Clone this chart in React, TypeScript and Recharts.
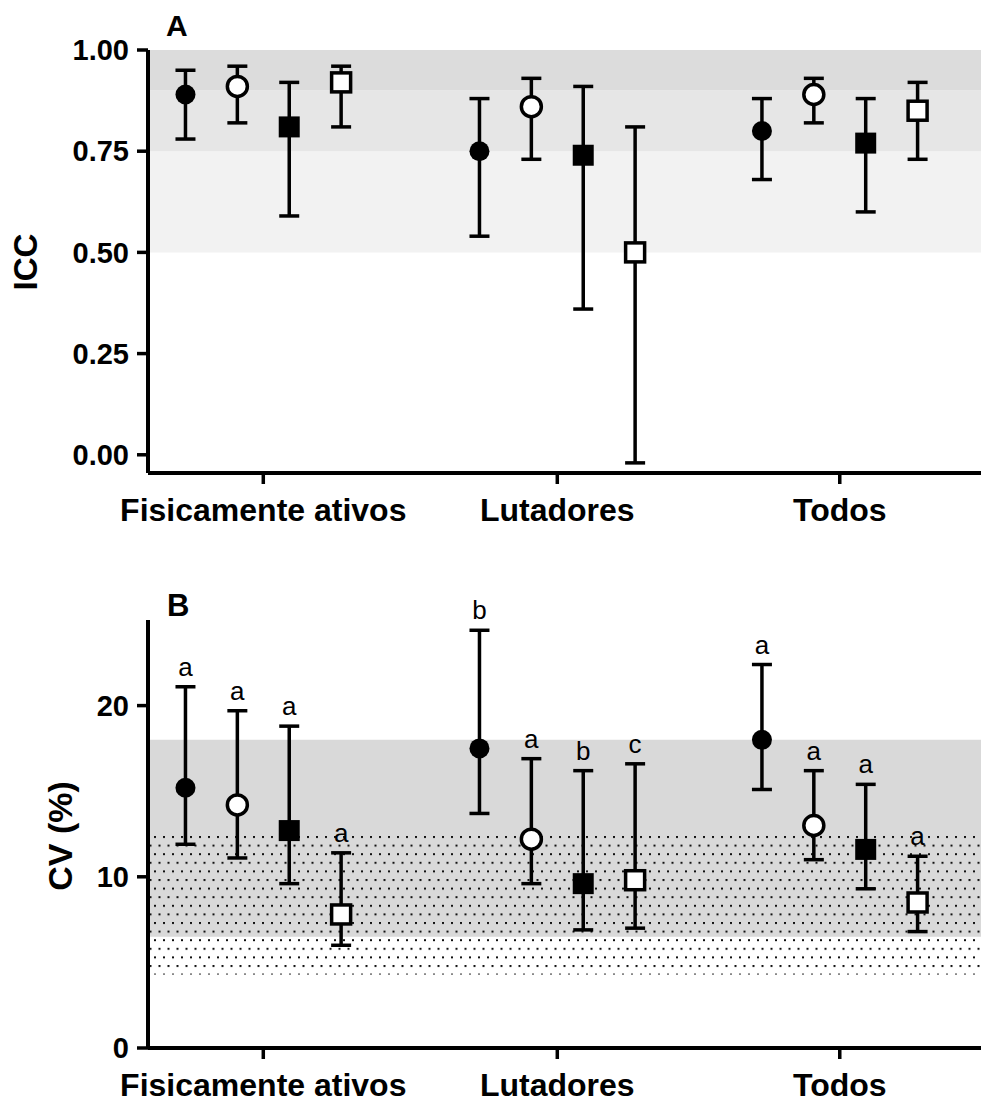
import { ErrorBar, ReferenceArea, Scatter, ScatterChart, XAxis, YAxis } from 'recharts'

const groupNames = ['Fisicamente ativos', 'Lutadores', 'Todos']
const groupTicks = [1, 2.02, 3]
const seriesKinds = ['filledCircle', 'openCircle', 'filledSquare', 'openSquare']
const seriesOffsets = [-0.27, -0.09, 0.09, 0.27]

// rows = groups, columns = series (same order as seriesKinds)
const iccMean = [
  [0.89, 0.91, 0.81, 0.92],
  [0.75, 0.86, 0.74, 0.5],
  [0.8, 0.89, 0.77, 0.85],
]
const iccLow = [
  [0.78, 0.82, 0.59, 0.81],
  [0.54, 0.73, 0.36, -0.02],
  [0.68, 0.82, 0.6, 0.73],
]
const iccHigh = [
  [0.95, 0.96, 0.92, 0.96],
  [0.88, 0.93, 0.91, 0.81],
  [0.88, 0.93, 0.88, 0.92],
]
const iccTicks = [0, 0.25, 0.5, 0.75, 1]
const iccBandEdges = [0.5, 0.75, 0.9, 1]

const cvMean = [
  [15.2, 14.2, 12.7, 7.8],
  [17.5, 12.2, 9.6, 9.8],
  [18.0, 13.0, 11.6, 8.5],
]
const cvLow = [
  [11.9, 11.1, 9.6, 6.0],
  [13.7, 9.6, 6.9, 7.0],
  [15.1, 11.0, 9.3, 6.8],
]
const cvHigh = [
  [21.1, 19.7, 18.8, 11.4],
  [24.4, 16.9, 16.2, 16.6],
  [22.4, 16.2, 15.4, 11.2],
]
const cvLetters = [
  ['a', 'a', 'a', 'a'],
  ['b', 'a', 'b', 'c'],
  ['a', 'a', 'a', 'a'],
]
const cvTicks = [0, 10, 20]
const cvGrayBand = [6.5, 18]
const cvDotBand = [4.3, 12.4]

const FONT = '"Liberation Sans", Arial, sans-serif'

function seriesData(mean: number[][], low: number[][], high: number[][], s: number) {
  return groupTicks.map((t, g) => ({
    x: t + seriesOffsets[s],
    y: mean[g][s],
    err: [mean[g][s] - low[g][s], high[g][s] - mean[g][s]],
  }))
}

function letterData(s: number) {
  return groupTicks.map((t, g) => ({ x: t + seriesOffsets[s], y: cvHigh[g][s], label: cvLetters[g][s] }))
}

function Marker({ cx, cy, kind }: { cx: number; cy: number; kind: string }) {
  if (kind === 'filledCircle') return <circle cx={cx} cy={cy} r={10} fill="#000" />
  if (kind === 'openCircle') return <circle cx={cx} cy={cy} r={10} fill="#fff" stroke="#000" strokeWidth={3.5} />
  if (kind === 'filledSquare') return <rect x={cx - 10.5} y={cy - 10.5} width={21} height={21} fill="#000" />
  return <rect x={cx - 9.5} y={cy - 9.5} width={19} height={19} fill="#fff" stroke="#000" strokeWidth={3.5} />
}

function Title({ tx, ty, text, size }: { tx: number; ty: number; text: string; size: number }) {
  return (
    <text
      x={tx}
      y={ty}
      transform={`rotate(-90 ${tx} ${ty})`}
      textAnchor="middle"
      fontSize={size}
      fontWeight="bold"
      fontFamily={FONT}
      fill="#000"
    >
      {text}
    </text>
  )
}

const xAxisProps = {
  type: 'number' as const,
  dataKey: 'x',
  domain: [0.6, 3.49],
  ticks: groupTicks,
  tickFormatter: (v: number) => groupNames[groupTicks.indexOf(v)],
  axisLine: { stroke: '#000', strokeWidth: 4 },
  tickLine: { stroke: '#000', strokeWidth: 3.5 },
  tickSize: 11,
  tickMargin: 14,
  tick: { fill: '#000', fontSize: 32, fontWeight: 'bold', fontFamily: FONT },
  interval: 0 as const,
}

const yAxisStyle = {
  type: 'number' as const,
  dataKey: 'y',
  width: 148,
  axisLine: { stroke: '#000', strokeWidth: 4 },
  tickLine: { stroke: '#000', strokeWidth: 3.5 },
  tickSize: 11,
  tickMargin: 8,
  tick: { fill: '#000', fontSize: 29, fontWeight: 'bold', fontFamily: FONT },
  interval: 0 as const,
}

function PanelLetter({ text, left, top, size }: { text: string; left: number; top: number; size: number }) {
  return (
    <div
      style={{
        position: 'absolute',
        left,
        top,
        fontSize: size,
        lineHeight: 1,
        fontWeight: 'bold',
        fontFamily: FONT,
      }}
    >
      {text}
    </div>
  )
}

export default function App() {
  return (
    <div style={{ position: 'absolute', left: 0, top: 0, width: 981, height: 1104, background: '#fff' }}>
      <div style={{ position: 'absolute', left: 0, top: 0 }}>
        <ScatterChart width={981} height={560} margin={{ top: 50, right: 0, bottom: 0, left: 0 }}>
          <ReferenceArea y1={iccBandEdges[0]} y2={iccBandEdges[1]} fill="#f2f2f2" fillOpacity={1} stroke="none" />
          <ReferenceArea y1={iccBandEdges[1]} y2={iccBandEdges[2]} fill="#e6e6e6" fillOpacity={1} stroke="none" />
          <ReferenceArea y1={iccBandEdges[2]} y2={iccBandEdges[3]} fill="#dcdcdc" fillOpacity={1} stroke="none" />
          <XAxis {...xAxisProps} height={87} />
          <YAxis
            {...yAxisStyle}
            domain={[-0.045, 1]}
            ticks={iccTicks}
            tickFormatter={(v: number) => v.toFixed(2)}
            label={<Title tx={37} ty={262} text="ICC" size={33} />}
          />
          {seriesKinds.map((kind, s) => (
            <Scatter
              key={kind}
              data={seriesData(iccMean, iccLow, iccHigh, s)}
              isAnimationActive={false}
              shape={(p: any) => <Marker cx={p.cx} cy={p.cy} kind={kind} />}
            >
              <ErrorBar dataKey="err" direction="y" width={10} stroke="#000" strokeWidth={3.5} />
            </Scatter>
          ))}
        </ScatterChart>
      </div>
      <PanelLetter text="A" left={166} top={11} size={30} />

      <div style={{ position: 'absolute', left: 0, top: 570 }}>
        <ScatterChart width={981} height={534} margin={{ top: 50, right: 0, bottom: 0, left: 0 }}>
          <defs>
            <pattern id="cvDots" width={9} height={17.2} patternUnits="userSpaceOnUse" y={266}>
              <rect x={1} y={0} width={2} height={2} fill="#111" />
              <rect x={5.5} y={8.6} width={2} height={2} fill="#111" />
            </pattern>
          </defs>
          <ReferenceArea y1={cvGrayBand[0]} y2={cvGrayBand[1]} fill="#d9d9d9" fillOpacity={1} stroke="none" />
          <ReferenceArea y1={cvDotBand[0]} y2={cvDotBand[1]} fill="url(#cvDots)" fillOpacity={1} stroke="none" />
          <XAxis {...xAxisProps} height={56} />
          <YAxis
            {...yAxisStyle}
            domain={[0, 25]}
            ticks={cvTicks}
            label={<Title tx={72} ty={266} text="CV (%)" size={34} />}
          />
          {seriesKinds.map((kind, s) => (
            <Scatter
              key={kind}
              data={seriesData(cvMean, cvLow, cvHigh, s)}
              isAnimationActive={false}
              shape={(p: any) => <Marker cx={p.cx} cy={p.cy} kind={kind} />}
            >
              <ErrorBar dataKey="err" direction="y" width={10} stroke="#000" strokeWidth={3.5} />
            </Scatter>
          ))}
          {seriesKinds.map((kind, s) => (
            <Scatter
              key={`letters-${kind}`}
              data={letterData(s)}
              isAnimationActive={false}
              shape={(p: any) => (
                <text x={p.cx} y={p.cy - 11} textAnchor="middle" fontSize={26} fontFamily={FONT} fill="#000">
                  {p.payload.label}
                </text>
              )}
            />
          ))}
        </ScatterChart>
      </div>
      <PanelLetter text="B" left={167} top={590} size={31} />
    </div>
  )
}
